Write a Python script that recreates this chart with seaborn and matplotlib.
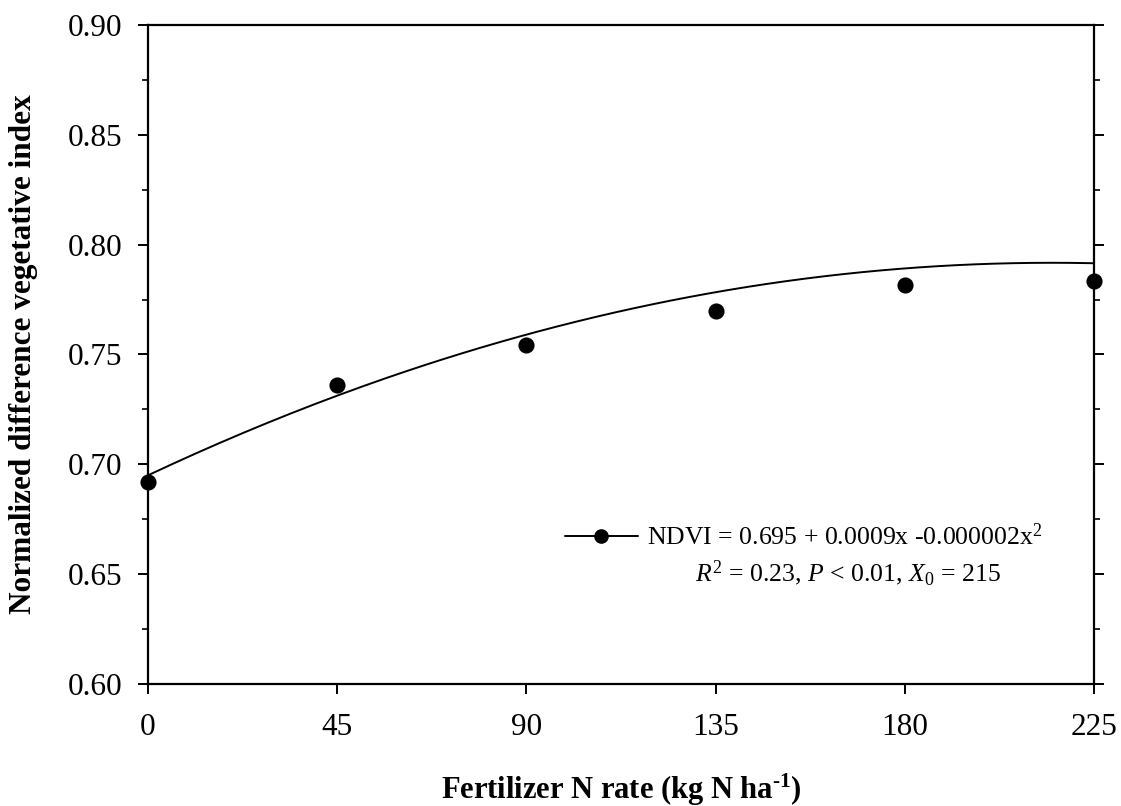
import numpy as np
import pandas as pd
import matplotlib
matplotlib.use("Agg")
import matplotlib.pyplot as plt
from matplotlib.lines import Line2D
from matplotlib.ticker import MultipleLocator
import seaborn as sns

# Observed NDVI by fertilizer N rate
n_rate = [0, 45, 90, 135, 180, 225]
ndvi = [0.692, 0.736, 0.7545, 0.770, 0.7815, 0.7835]

# Quadratic response: NDVI = a + b*x - c*x^2, maximum at x0
coef_a = 0.695
coef_b = 0.0009
x_max = 215

x_ticks = [0, 45, 90, 135, 180, 225]
y_ticks = [0.60, 0.65, 0.70, 0.75, 0.80, 0.85, 0.90]

sns.set_theme(style="ticks")
plt.rcParams["font.family"] = ["Liberation Serif", "DejaVu Serif"]
plt.rcParams["mathtext.fontset"] = "custom"
plt.rcParams["mathtext.rm"] = "Liberation Serif"
plt.rcParams["mathtext.it"] = "Liberation Serif:italic"
plt.rcParams["mathtext.bf"] = "Liberation Serif:bold"
plt.rcParams["text.color"] = "black"
plt.rcParams["axes.labelcolor"] = "black"

fig = plt.figure(figsize=(11.21, 8.06), dpi=100)
ax = fig.add_axes([148 / 1121, 1 - 684 / 806, (1094 - 148) / 1121, (684 - 25) / 806])

coef_c = coef_b / (2 * x_max)
xs = np.linspace(0, 225, 200)
fit = pd.DataFrame({"x": xs, "y": coef_a + coef_b * xs - coef_c * xs ** 2})
obs = pd.DataFrame({"x": n_rate, "y": ndvi})

sns.lineplot(data=fit, x="x", y="y", ax=ax, color="black", lw=1.4, zorder=2)
sns.scatterplot(data=obs, x="x", y="y", ax=ax, color="black", s=135,
                edgecolor="black", linewidth=0, zorder=3, clip_on=False)

ax.set_xlim(0, 225)
ax.set_ylim(0.60, 0.90)
ax.set_xticks(x_ticks)
ax.set_xticklabels([str(v) for v in x_ticks])
ax.set_yticks(y_ticks)
ax.set_yticklabels([f"{v:.2f}" for v in y_ticks])
ax.yaxis.set_minor_locator(MultipleLocator(0.025))

for s in ax.spines.values():
    s.set_linewidth(1.6)
    s.set_color("black")

ax.tick_params(axis="both", which="major", direction="out", length=7, width=1.4,
               labelsize=22.5, colors="black")
ax.tick_params(axis="y", which="both", left=True, right=True)
ax.tick_params(axis="y", which="major", pad=11.5)
ax.tick_params(axis="y", which="minor", direction="out", length=4, width=1.4)
ax.tick_params(axis="x", pad=14)

ax.set_xlabel("Fertilizer N rate (kg N ha$^{\\text{-}\\mathbf{1}}$)", fontsize=22,
              fontweight="bold", color="black")
ax.set_ylabel("Normalized difference vegetative index", fontsize=22.5,
              fontweight="bold", color="black")
ax.xaxis.set_label_coords(0.5, -(772 - 684) / 659)
ax.yaxis.set_label_coords(-(148 - 38) / 946, 0.5)

handle = Line2D([], [], color="black", lw=1.4, marker="o", markersize=9.5)
leg = ax.legend([handle], ["NDVI = 0.695 + 0.0009x -0.000002x$^2$"], loc="center left",
                bbox_to_anchor=((565 - 148) / 946, (684 - 537) / 659), frameon=False,
                fontsize=18.5, handlelength=2.84, handletextpad=0.35,
                borderaxespad=0, borderpad=0)
for t in leg.get_texts():
    t.set_color("black")
ax.text((847.5 - 148) / 946, (684 - 581) / 659,
        "$R^2$ = 0.23, $P$ < 0.01, $X_0$ = 215", transform=ax.transAxes,
        fontsize=18.5, ha="center", va="baseline", color="black")

fig.savefig("out.png", dpi=100)
